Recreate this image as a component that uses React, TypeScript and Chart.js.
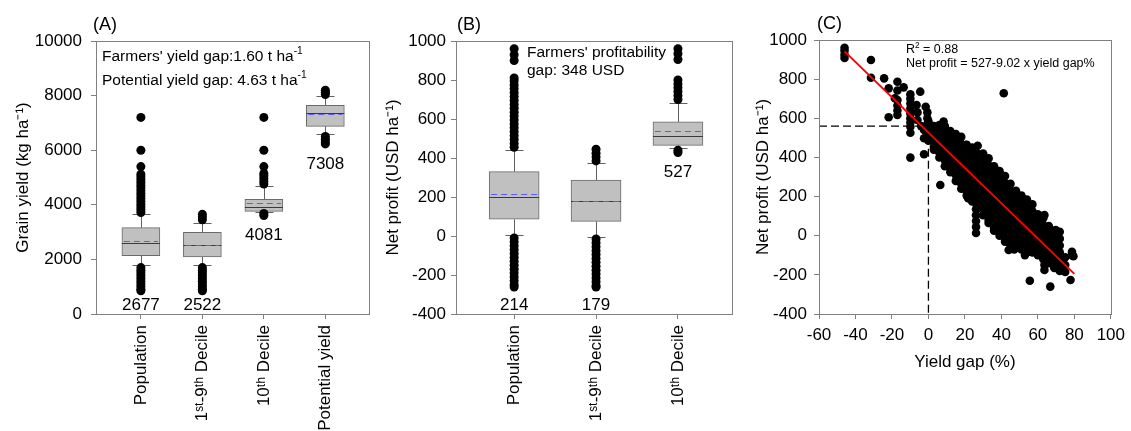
import React, { useEffect, useRef } from "react";
import { Chart, registerables } from "chart.js";
Chart.register(...registerables);

const FONT = "'Liberation Sans', Arial, Helvetica, sans-serif";

// ---------- Panel A : grain yield ----------
const yieldCategories = ["Population", "1ˢᵗ-9ᵗʰ Decile", "10ᵗʰ Decile", "Potential yield"];
const yieldQ1 = [2136, 2088, 3762, 6875];
const yieldQ3 = [3161, 2993, 4200, 7645];
const yieldMedian = [2590, 2516, 3908, 7375];
const yieldMean = [2677, 2522, 4081, 7308];
const yieldWhiskerLow = [1784, 1784, 3740, 6582];
const yieldWhiskerHigh = [3652, 3344, 4689, 7985];
const yieldOutliersPopulation = [3720, 3820, 3920, 4020, 4120, 4220, 4320, 4420, 4520, 4620, 4720, 4820, 4920, 5020, 5120, 5400, 6000, 7200, 1700, 1600, 1500, 1400, 1300, 1200, 1100, 1000, 900, 850];
const yieldOutliersDecile19 = [3450, 3550, 3650, 1700, 1600, 1500, 1400, 1300, 1200, 1100, 1000, 900, 850];
const yieldOutliersDecile10 = [4760, 4860, 4960, 5060, 5150, 5400, 6000, 7200, 3680, 3610];
const yieldOutliersPotential = [8040, 8120, 8200, 6500, 6400, 6300, 6230];
const yieldValueLabels = ["2677", "2522", "4081", "7308"];
const yieldTicks = [0, 2000, 4000, 6000, 8000, 10000];

// ---------- Panel B : net profit ----------
const profitCategories = ["Population", "1ˢᵗ-9ᵗʰ Decile", "10ᵗʰ Decile"];
const profitQ1 = [86, 75, 465];
const profitQ3 = [330, 287, 585];
const profitMedian = [200, 178, 511];
const profitMean = [214, 179, 540];
const profitWhiskerLow = [4, -7, 451];
const profitWhiskerHigh = [441, 373, 684];
const profitOutliersPopulation = [455, 475, 495, 515, 535, 555, 575, 595, 615, 635, 655, 675, 695, 715, 735, 755, 775, 795, 810, 900, 930, 960, -10, -30, -50, -70, -90, -110, -130, -150, -170, -190, -210, -230, -250, -262];
const profitOutliersDecile19 = [385, 405, 425, 445, -15, -35, -55, -75, -95, -115, -135, -155, -175, -195, -215, -235, -255, -262];
const profitOutliersDecile10 = [700, 720, 740, 760, 780, 800, 905, 935, 960, 440, 428];
const profitValueLabels = ["214", "179", "527"];
const profitTicks = [-400, -200, 0, 200, 400, 600, 800, 1000];

// ---------- Panel C : net profit vs yield gap ----------
const gapColumnsX = [0, 3, 6, 9, 12, 15, 18, 21, 24, 27, 30, 33, 36, 39, 42, 45, 48, 51, 54, 57, 60, 63, 66, 69, 72, 75];
const gapColumnsY = [
  [585, 550, 515, 485],
  [560, 525, 490, 455, 440],
  [565, 530, 495, 460, 425, 400],
  [560, 525, 490, 455, 420, 385, 355],
  [535, 500, 465, 430, 395, 360, 325],
  [520, 485, 450, 415, 380, 345, 310, 280],
  [505, 470, 435, 400, 365, 330, 295, 265, 240],
  [465, 430, 395, 360, 325, 290, 255, 225, 205],
  [450, 415, 380, 345, 310, 275, 240, 205, 175],
  [460, 420, 385, 350, 315, 280, 245, 210, 175, 140],
  [420, 385, 350, 315, 280, 245, 210, 175, 140, 105],
  [395, 360, 325, 290, 255, 220, 185, 150, 115, 80, 65],
  [355, 320, 285, 250, 215, 180, 145, 110, 75, 40, 25],
  [330, 295, 260, 225, 190, 155, 120, 85, 50, 15, 0],
  [305, 270, 235, 200, 165, 130, 95, 60, 25, -10, -30],
  [265, 230, 195, 160, 125, 90, 55, 20, -15, -50],
  [230, 195, 160, 125, 90, 55, 20, -15, -50],
  [205, 170, 135, 100, 65, 30, -5, -40, -70],
  [185, 150, 115, 80, 45, 10, -25, -60, -85],
  [160, 125, 90, 55, 20, -15, -50, -85],
  [110, 75, 40, 5, -30, -65, -100],
  [90, 55, 20, -15, -50, -85, -120],
  [50, 15, -20, -55, -90, -125, -140],
  [25, -10, -45, -80, -115, -150, -165],
  [20, -15, -50, -85, -120, -155, -180],
  [-110, -150, -185],
];
const gapExtraPoints = [
  [-46, 960], [-46, 945], [-46, 925], [-46, 908], [-31.5, 898], [-31.5, 807], [-24.3, 804], [-21.8, 753],
  [-21.8, 605], [-17, 787], [-17, 742], [-13.6, 758], [-17, 693], [-17, 665], [-17, 640], [-17, 617],
  [-18.4, 702], [-9.9, 722], [-9.9, 700], [-9.9, 675], [-9.9, 650], [-9.9, 625], [-9.9, 600], [-9.9, 578],
  [-9.9, 557], [-9.9, 526], [-9.9, 399], [-6.5, 668], [-6, 630], [-6, 591], [-4.5, 736], [-1.5, 659],
  [-0.6, 630], [-0.6, 600], [-0.6, 570], [-2.4, 540], [-2.4, 498], [-2.4, 416], [-4, 560], [6.5, 259],
  [8.3, 583], [20.5, 463], [41.3, 728], [26.1, 167], [26.1, 135], [26.1, 105], [26.1, 75], [26.1, 45],
  [26.1, 14], [21.8, 191], [55.6, -230], [66.8, -260], [77.9, -226], [78.7, -82], [78.7, -99], [79.5, -105],
  [63.6, -175], [63.6, -150], [69.8, 29], [69.8, -5], [69.8, -40], [69.8, -75], [69.8, -107], [63.6, 106],
  [44, -73], [52.9, -99], [47, -70],
];
const fitLine = [[-46, 942], [80, -195]];
const referenceGuide = [[-60, 560], [0, 560], [0, -400]];
const gapXTicks = [-60, -40, -20, 0, 20, 40, 60, 80, 100];
const gapYTicks = [-400, -200, 0, 200, 400, 600, 800, 1000];

type Part = { t: string; sup?: boolean };

function drawRich(ctx: CanvasRenderingContext2D, parts: Part[], x: number, y: number, size: number) {
  let cx = x;
  ctx.textBaseline = "middle";
  ctx.textAlign = "left";
  ctx.fillStyle = "#000";
  for (const p of parts) {
    const fs = p.sup ? size * 0.66 : size;
    ctx.font = `${fs}px ${FONT}`;
    ctx.fillText(p.t, cx, p.sup ? y - size * 0.36 : y);
    cx += ctx.measureText(p.t).width;
  }
}

const axisGrid = { drawOnChartArea: false, drawTicks: true, tickLength: 5, color: "#808080", offset: false };
const axisBorder = { display: true, color: "#808080", width: 1 };
const tickFont = { family: FONT, size: 17 };
const plainNumber = (v: any) => String(v);

function framePlugin(letter: string, letterDx: number, notes: { parts: Part[]; dx: number; dy: number; size: number }[]) {
  return {
    id: "frame" + letter.replace(/[()]/g, ""),
    afterDraw(chart: any) {
      const { ctx, chartArea: a } = chart;
      ctx.save();
      ctx.strokeStyle = "#808080";
      ctx.lineWidth = 1;
      ctx.strokeRect(Math.round(a.left) + 0.5, Math.round(a.top) + 0.5, Math.round(a.right - a.left), Math.round(a.bottom - a.top));
      ctx.fillStyle = "#000";
      ctx.font = `18px ${FONT}`;
      ctx.textBaseline = "middle";
      ctx.textAlign = "left";
      ctx.fillText(letter, a.left + letterDx, a.top - 16);
      for (const n of notes) drawRich(ctx, n.parts, a.left + n.dx, a.top + n.dy, n.size);
      ctx.restore();
    },
  };
}

type BoxPanel = {
  categories: string[]; q1: number[]; q3: number[]; median: number[]; mean: number[];
  low: number[]; high: number[]; outliers: number[][]; valueLabels: string[]; yTicks: number[];
  xMin: number; xMax: number; yTitle: string; padLeft: number; padRight: number; padTop: number;
  yWidth: number; yTickPad: number; boxWidth: number; letter: string; letterDx: number;
  notes: { parts: Part[]; dx: number; dy: number; size: number }[];
};

function makeBoxChart(canvas: HTMLCanvasElement, p: BoxPanel) {
  const positions = p.categories.map((_, i) => i + 1);
  const boxData = positions.map((x, i) => ({ x, y: [p.q1[i], p.q3[i]] }));
  const outlierData = p.outliers.flatMap((vals, i) => vals.map((v) => ({ x: positions[i], y: v })));
  const cap = 9;
  const boxPlugin = {
    id: "box" + p.letter.replace(/[()]/g, ""),
    beforeDatasetsDraw(chart: any) {
      const { ctx } = chart;
      const xs = chart.scales.x, ys = chart.scales.y;
      ctx.save();
      ctx.strokeStyle = "#606060";
      ctx.lineWidth = 1;
      positions.forEach((v, i) => {
        const cx = Math.round(xs.getPixelForValue(v)) + 0.5;
        const yLow = Math.round(ys.getPixelForValue(p.low[i])) + 0.5;
        const yHigh = Math.round(ys.getPixelForValue(p.high[i])) + 0.5;
        const yQ1 = ys.getPixelForValue(p.q1[i]);
        const yQ3 = ys.getPixelForValue(p.q3[i]);
        ctx.beginPath();
        ctx.moveTo(cx, yQ3); ctx.lineTo(cx, yHigh);
        ctx.moveTo(cx, yQ1); ctx.lineTo(cx, yLow);
        ctx.moveTo(cx - cap, yHigh); ctx.lineTo(cx + cap, yHigh);
        ctx.moveTo(cx - cap, yLow); ctx.lineTo(cx + cap, yLow);
        ctx.stroke();
      });
      ctx.restore();
    },
    afterDatasetsDraw(chart: any) {
      const { ctx, chartArea } = chart;
      const xs = chart.scales.x, ys = chart.scales.y;
      const hw = p.boxWidth / 2;
      ctx.save();
      positions.forEach((v, i) => {
        const cx = xs.getPixelForValue(v);
        const ym = Math.round(ys.getPixelForValue(p.median[i])) + 0.5;
        ctx.setLineDash([]);
        ctx.strokeStyle = "#3a3a3a";
        ctx.lineWidth = 1;
        ctx.beginPath(); ctx.moveTo(cx - hw, ym); ctx.lineTo(cx + hw, ym); ctx.stroke();
        const ya = Math.round(ys.getPixelForValue(p.mean[i])) + 0.5;
        ctx.setLineDash([6, 4]);
        ctx.strokeStyle = "#5a5aff";
        ctx.beginPath(); ctx.moveTo(cx - hw + 2, ya); ctx.lineTo(cx + hw - 2, ya); ctx.stroke();
      });
      ctx.setLineDash([]);
      ctx.fillStyle = "#000";
      ctx.font = `17px ${FONT}`;
      ctx.textAlign = "center";
      ctx.textBaseline = "middle";
      positions.forEach((v, i) => {
        const lowest = Math.min(p.low[i], ...p.outliers[i]);
        const y = Math.min(ys.getPixelForValue(lowest) + 20, chartArea.bottom - 9);
        ctx.fillText(p.valueLabels[i], xs.getPixelForValue(v), y);
      });
      ctx.restore();
    },
  };
  return new Chart(canvas, {
    type: "bar",
    data: {
      datasets: [
        { type: "scatter", data: outlierData, pointRadius: 4.5, pointHoverRadius: 4.5, pointBackgroundColor: "#000", pointBorderWidth: 0, order: 0 } as any,
        { type: "bar", data: boxData, backgroundColor: "#c0c0c0", borderColor: "#6a6a6a", borderWidth: 1, borderSkipped: false, barThickness: p.boxWidth, order: 1 } as any,
      ],
    },
    options: {
      animation: false,
      responsive: false,
      devicePixelRatio: 1,
      events: [],
      layout: { padding: { left: p.padLeft, right: p.padRight, top: p.padTop, bottom: 0 } },
      plugins: { legend: { display: false }, tooltip: { enabled: false } },
      scales: {
        x: {
          type: "linear", min: p.xMin, max: p.xMax, offset: false,
          afterBuildTicks: (s: any) => { s.ticks = positions.map((v) => ({ value: v })); },
          afterFit: (s: any) => { s.height = 117; },
          ticks: { callback: (v: any) => p.categories[Math.round(v) - 1] ?? "", minRotation: 90, maxRotation: 90, autoSkip: false, font: tickFont, color: "#000", padding: 6 },
          grid: axisGrid, border: axisBorder,
        },
        y: {
          type: "linear", min: p.yTicks[0], max: p.yTicks[p.yTicks.length - 1],
          afterBuildTicks: (s: any) => { s.ticks = p.yTicks.map((v) => ({ value: v })); },
          afterFit: (s: any) => { s.width = p.yWidth; },
          ticks: { font: tickFont, color: "#000", padding: p.yTickPad, callback: plainNumber },
          grid: axisGrid, border: axisBorder,
          title: { display: true, text: p.yTitle, font: tickFont, color: "#000", padding: 0 },
        },
      } as any,
    },
    plugins: [boxPlugin, framePlugin(p.letter, p.letterDx, p.notes)],
  } as any);
}

function makeScatterChart(canvas: HTMLCanvasElement) {
  const cloud = gapColumnsX.flatMap((x, i) => gapColumnsY[i].map((y) => ({ x, y })));
  const extras = gapExtraPoints.map(([x, y]) => ({ x, y }));
  return new Chart(canvas, {
    type: "scatter",
    data: {
      datasets: [
        { data: fitLine.map(([x, y]) => ({ x, y })), showLine: true, borderColor: "#ff0000", borderWidth: 2, pointRadius: 0, order: 0 },
        { data: referenceGuide.map(([x, y]) => ({ x, y })), showLine: true, borderColor: "#000", borderWidth: 1.3, borderDash: [8, 4], pointRadius: 0, order: 1 },
        { data: [...cloud, ...extras], pointRadius: 4.3, pointHoverRadius: 4.3, pointBackgroundColor: "#000", pointBorderWidth: 0, order: 2 },
      ] as any,
    },
    options: {
      animation: false,
      responsive: false,
      devicePixelRatio: 1,
      events: [],
      layout: { padding: { left: 11, right: 13, top: 40, bottom: 0 } },
      plugins: { legend: { display: false }, tooltip: { enabled: false } },
      scales: {
        x: {
          type: "linear", min: -60, max: 100,
          afterBuildTicks: (s: any) => { s.ticks = gapXTicks.map((v) => ({ value: v })); },
          afterFit: (s: any) => { s.height = 117; },
          ticks: { font: tickFont, color: "#000", padding: 6, maxRotation: 0, callback: plainNumber },
          grid: axisGrid, border: axisBorder,
          title: { display: true, text: "Yield gap (%)", font: tickFont, color: "#000", padding: { top: 0, bottom: 58 } },
        },
        y: {
          type: "linear", min: -400, max: 1000,
          afterBuildTicks: (s: any) => { s.ticks = gapYTicks.map((v) => ({ value: v })); },
          afterFit: (s: any) => { s.width = 66; },
          ticks: { font: tickFont, color: "#000", padding: 7, callback: plainNumber },
          grid: axisGrid, border: axisBorder,
          title: { display: true, text: "Net profit (USD ha⁻¹)", font: tickFont, color: "#000", padding: 0 },
        },
      } as any,
    },
    plugins: [framePlugin("(C)", -2, [
      { parts: [{ t: "R" }, { t: "2", sup: true }, { t: " = 0.88" }], dx: 87, dy: 10, size: 12.5 },
      { parts: [{ t: "Net profit = 527-9.02 x yield gap%" }], dx: 87, dy: 24, size: 12.5 },
    ])],
  } as any);
}

export default function App() {
  const refA = useRef<HTMLCanvasElement>(null);
  const refB = useRef<HTMLCanvasElement>(null);
  const refC = useRef<HTMLCanvasElement>(null);

  useEffect(() => {
    const a = makeBoxChart(refA.current!, {
      categories: yieldCategories, q1: yieldQ1, q3: yieldQ3, median: yieldMedian, mean: yieldMean,
      low: yieldWhiskerLow, high: yieldWhiskerHigh,
      outliers: [yieldOutliersPopulation, yieldOutliersDecile19, yieldOutliersDecile10, yieldOutliersPotential],
      valueLabels: yieldValueLabels, yTicks: yieldTicks, xMin: 0.27, xMax: 4.71,
      yTitle: "Grain yield (kg ha⁻¹)", padLeft: 13, padRight: 11, padTop: 41, yWidth: 83, yTickPad: 9,
      boxWidth: 38, letter: "(A)", letterDx: -3,
      notes: [
        { parts: [{ t: "Farmers' yield gap:1.60 t ha" }, { t: "-1", sup: true }], dx: 6, dy: 16, size: 15.5 },
        { parts: [{ t: "Potential yield gap: 4.63 t ha" }, { t: "-1", sup: true }], dx: 6, dy: 40, size: 15.5 },
      ],
    });
    const b = makeBoxChart(refB.current!, {
      categories: profitCategories, q1: profitQ1, q3: profitQ3, median: profitMedian, mean: profitMean,
      low: profitWhiskerLow, high: profitWhiskerHigh,
      outliers: [profitOutliersPopulation, profitOutliersDecile19, profitOutliersDecile10],
      valueLabels: profitValueLabels, yTicks: profitTicks, xMin: 0.29, xMax: 3.66,
      yTitle: "Net profit (USD ha⁻¹)", padLeft: 11, padRight: 8, padTop: 41, yWidth: 73, yTickPad: 5,
      boxWidth: 50, letter: "(B)", letterDx: 1,
      notes: [
        { parts: [{ t: "Farmers' profitability" }], dx: 71, dy: 12, size: 15.5 },
        { parts: [{ t: "gap: 348 USD" }], dx: 71, dy: 30, size: 15.5 },
      ],
    });
    const c = makeScatterChart(refC.current!);
    return () => { a.destroy(); b.destroy(); c.destroy(); };
  }, []);

  const cv = (left: number, width: number): React.CSSProperties => ({ position: "absolute", left, top: 0, width, height: 431 });
  return (
    <div style={{ position: "absolute", left: 0, top: 0, width: 1131, height: 431, background: "#fff", overflow: "hidden" }}>
      <canvas ref={refA} width={380} height={431} style={cv(0, 380)} />
      <canvas ref={refB} width={368} height={431} style={cv(372, 368)} />
      <canvas ref={refC} width={389} height={431} style={cv(742, 389)} />
    </div>
  );
}
